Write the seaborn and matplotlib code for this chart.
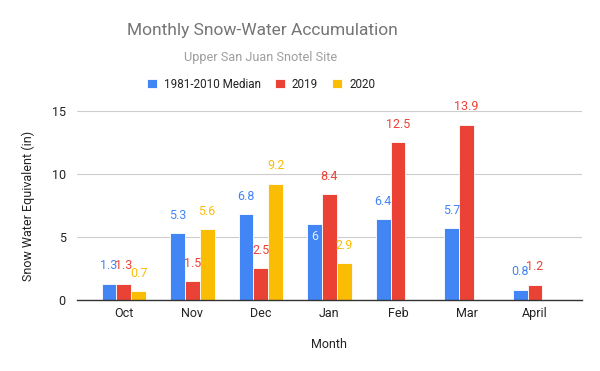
import numpy as np
import pandas as pd
import seaborn as sns
from matplotlib import pyplot as plt

months = ['Oct', 'Nov', 'Dec', 'Jan', 'Feb', 'Mar', 'April']
median_vals = [1.3, 5.3, 6.8, 6.0, 6.4, 5.7, 0.8]
vals_2019 = [1.3, 1.5, 2.5, 8.4, 12.5, 13.9, 1.2]
vals_2020 = [0.7, 5.6, 9.2, 2.9, np.nan, np.nan, np.nan]
series_names = ['1981-2010 Median', '2019', '2020']
colors = ['#4285F4', '#EA4335', '#FBBC04']

df = pd.DataFrame({
    'Month': months * 3,
    'Series': [s for s in series_names for _ in months],
    'Value': median_vals + vals_2019 + vals_2020,
})

sns.set_theme(style='white')
plt.rcParams['font.family'] = ['Roboto', 'DejaVu Sans']

fig = plt.figure(figsize=(6, 3.71), dpi=100)
ax = fig.add_axes([0.128, 0.1914, 0.842, 0.5096])

sns.barplot(data=df, x='Month', y='Value', hue='Series', order=months,
            hue_order=series_names, palette=colors, width=0.65, saturation=1,
            errorbar=None, edgecolor='white', linewidth=0.6, ax=ax)

ax.set_xlim(-0.686, 6.686)
ax.set_ylim(0, 15)
ax.set_yticks([0, 5, 10, 15])
ax.yaxis.grid(True, color='#cccccc', linewidth=0.8)
ax.set_axisbelow(True)
for side in ['top', 'right', 'left']:
    ax.spines[side].set_visible(False)
ax.spines['bottom'].set_color('#333333')
ax.spines['bottom'].set_linewidth(1)
ax.tick_params(axis='both', length=0, labelsize=9, labelcolor='#222222')
ax.tick_params(axis='x', pad=5)
ax.tick_params(axis='y', pad=8)
ax.set_xlabel('Month', fontsize=9, color='#222222', labelpad=13)
ax.set_ylabel('Snow Water Equivalent (in)', fontsize=9, color='#222222', labelpad=12)

# data labels above bars (Jan median sits inside, as in the original)
for cont, col in zip(ax.containers, colors):
    for bar in cont:
        h = bar.get_height()
        if np.isnan(h) or h == 0:
            continue
        xc = bar.get_x() + bar.get_width() / 2
        off, tc = 13, col
        if col == colors[0] and abs(h - 6.0) < 1e-9:
            off, tc = -9, '#e3ecfd'
        ax.annotate(f'{h:g}', (xc, h), xytext=(0, off), textcoords='offset points',
                    ha='center', va='center', fontsize=9, color=tc, clip_on=False)

handles, labels = ax.get_legend_handles_labels()
ax.legend_.remove()
fig.legend(handles, labels, loc='center', bbox_to_anchor=(0.435, 1 - 84 / 371),
           ncol=3, frameon=False, fontsize=8.4, handlelength=0.85, handleheight=0.85,
           handletextpad=0.6, columnspacing=1.2, labelcolor='#222222')

fig.text(0.437, 1 - 31 / 371, 'Monthly Snow-Water Accumulation', ha='center', va='center',
         fontsize=12.5, color='#757575')
fig.text(0.435, 1 - 58 / 371, 'Upper San Juan Snotel Site', ha='center', va='center',
         fontsize=9.2, color='#9e9e9e')

fig.savefig('out.png', dpi=100, facecolor='white')
